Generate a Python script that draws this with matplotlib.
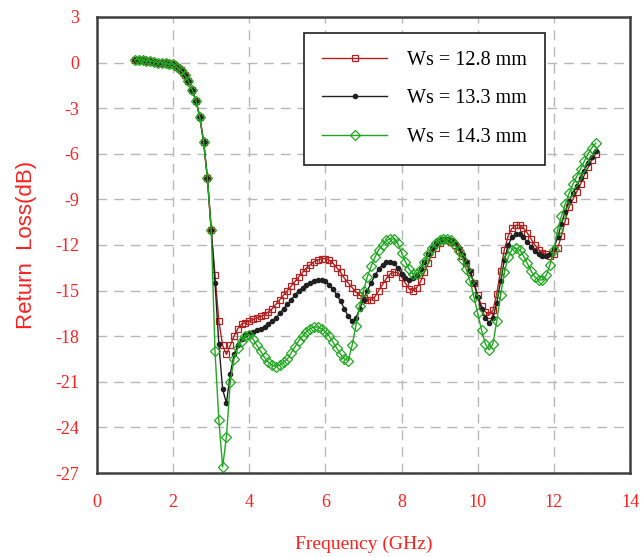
import numpy as np
import matplotlib
matplotlib.use("Agg")
import matplotlib.pyplot as plt

plt.rcParams["axes.unicode_minus"] = False

# frequency grid (GHz), 1.0 .. 13.1 in 0.1 steps
freq = np.round(np.arange(1.0, 13.15, 0.1), 2)

# common low-frequency part, 1.0 .. 3.0 GHz
low = [0.2, 0.2, 0.15, 0.1, 0.1, 0.05, 0.0, 0.0, -0.05, -0.1,
       -0.1, -0.3, -0.5, -0.8, -1.2, -1.8, -2.5, -3.6, -5.2, -7.6, -11.0]

ws128 = low + [
    -14.0, -17.0, -18.6, -19.2, -18.6, -18.0, -17.5, -17.2, -17.1, -17.0,   # 3.1-4.0
    -16.9, -16.8, -16.7, -16.6, -16.4, -16.2, -15.9, -15.6, -15.3, -15.0,   # 4.1-5.0
    -14.7, -14.4, -14.1, -13.8, -13.5, -13.3, -13.1, -13.0, -12.9, -12.9,   # 5.1-6.0
    -13.0, -13.2, -13.5, -13.8, -14.2, -14.5, -14.8, -15.1, -15.3, -15.5,   # 6.1-7.0
    -15.6, -15.6, -15.4, -15.0, -14.6, -14.2, -13.9, -13.8, -13.8, -14.1,   # 7.1-8.0
    -14.5, -14.9, -15.0, -14.8, -14.4, -13.8, -13.2, -12.6, -12.2, -11.9,   # 8.1-9.0
    -11.7, -11.7, -11.8, -12.0, -12.3, -12.7, -13.2, -13.8, -14.5, -15.3,   # 9.1-10.0
    -16.0, -16.4, -16.6, -16.3, -15.2, -13.7, -12.3, -11.4, -10.9, -10.7,   # 10.1-11.0
    -10.7, -10.9, -11.2, -11.6, -12.0, -12.3, -12.5, -12.6, -12.7, -12.6,   # 11.1-12.0
    -12.2, -11.4, -10.4, -9.5, -9.0, -8.5, -8.0, -7.4, -6.9, -6.4, -6.0,    # 12.1-13.1
]

ws133 = low + [
    -14.5, -18.5, -21.5, -22.4, -20.5, -19.2, -18.6, -18.2, -17.9, -17.8,
    -17.7, -17.6, -17.5, -17.4, -17.2, -17.0, -16.8, -16.5, -16.2, -15.9,
    -15.6, -15.3, -15.0, -14.8, -14.6, -14.5, -14.4, -14.3, -14.3, -14.4,
    -14.6, -14.9, -15.3, -15.7, -16.2, -16.7, -17.0, -16.8, -16.2, -15.6,
    -15.0, -14.5, -14.0, -13.6, -13.3, -13.1, -13.1, -13.2, -13.5, -13.9,
    -14.2, -14.3, -14.2, -14.0, -13.6, -13.1, -12.6, -12.2, -11.9, -11.7,
    -11.6, -11.6, -11.7, -11.9, -12.2, -12.6, -13.1, -13.7, -14.5, -15.4,
    -16.2, -16.8, -17.1, -16.8, -15.8, -14.4, -13.0, -12.0, -11.5, -11.3,
    -11.3, -11.5, -11.8, -12.1, -12.4, -12.6, -12.7, -12.7, -12.6, -12.2,
    -11.5, -10.6, -9.8, -9.1, -8.6, -8.1, -7.6, -7.1, -6.6, -6.2, -5.8,
]

ws143 = low + [
    -19.0, -23.5, -26.6, -24.6, -21.0, -19.5, -18.8, -18.3, -18.0, -17.9,
    -18.2, -18.6, -19.0, -19.4, -19.7, -19.9, -20.0, -19.9, -19.7, -19.5,
    -19.1, -18.7, -18.3, -18.0, -17.7, -17.5, -17.4, -17.4, -17.5, -17.7,
    -18.0, -18.4, -18.8, -19.2, -19.5, -19.6, -18.6, -17.3, -16.0, -15.0,
    -14.1, -13.4, -12.8, -12.3, -12.0, -11.7, -11.6, -11.6, -11.9, -12.5,
    -13.1, -13.6, -13.9, -13.9, -13.6, -13.1, -12.6, -12.2, -11.9, -11.7,
    -11.6, -11.6, -11.7, -12.0, -12.4, -12.9, -13.6, -14.4, -15.4, -16.5,
    -17.6, -18.5, -18.9, -18.5, -17.0, -15.3, -13.8, -12.8, -12.3, -12.2,
    -12.3, -12.7, -13.2, -13.7, -14.1, -14.3, -14.3, -14.0, -13.3, -12.3,
    -11.0, -10.1, -9.3, -8.6, -8.0, -7.5, -7.0, -6.5, -6.0, -5.6, -5.3,
]

labels = ["Ws = 12.8 mm", "Ws = 13.3 mm", "Ws = 14.3 mm"]
xticks = [0, 2, 4, 6, 8, 10, 12, 14]
yticks = [3, 0, -3, -6, -9, -12, -15, -18, -21, -24, -27]

red_txt = "#ff2020"

fig = plt.figure(figsize=(6.42, 5.57), dpi=100)
ax = fig.add_axes([0.1511, 0.1508, 0.8302, 0.8187])

ax.plot(freq, ws128, color="#b22222", lw=1.0, marker="s", ms=5, mfc="none",
        mec="#b22222", mew=0.9, label=labels[0])
ax.plot(freq, ws133, color="#202020", lw=1.0, marker="o", ms=3, mfc="#202020",
        mec="#202020", label=labels[1])
ax.plot(freq, ws143, color="#1fa81f", lw=1.0, marker="D", ms=5, mfc="none",
        mec="#1fa81f", mew=0.9, label=labels[2])

ax.set_xlim(0, 14)
ax.set_ylim(-27, 3)
ax.set_xticks(xticks)
ax.set_yticks(yticks)
ax.grid(True, color="#b8b8b8", ls=(0, (7, 5)), lw=1.0)
ax.tick_params(length=0, labelcolor=red_txt, labelsize=13)
ax.tick_params(axis="x", pad=15)
ax.tick_params(axis="y", pad=13)
for lab in ax.get_xticklabels() + ax.get_yticklabels():
    lab.set_family("Liberation Serif")
for s in ax.spines.values():
    s.set_color("#404040")
    s.set_linewidth(1.8)

ax.set_xlabel("Frequency (GHz)", color=red_txt, fontsize=14,
              family="Liberation Serif", labelpad=18)
ax.set_ylabel("Return  Loss(dB)", color=red_txt, fontsize=16,
              family="Liberation Sans", labelpad=13)

leg = ax.legend(loc="upper right", bbox_to_anchor=(0.8405, 0.965),
                borderaxespad=0,
                prop={"family": "Liberation Serif", "size": 14.5},
                handlelength=3.2, borderpad=0.9, labelspacing=0.95,
                handletextpad=1.0, fancybox=False, framealpha=1,
                edgecolor="#202020")
leg.get_frame().set_linewidth(1.2)

fig.savefig("out.png", dpi=100)
